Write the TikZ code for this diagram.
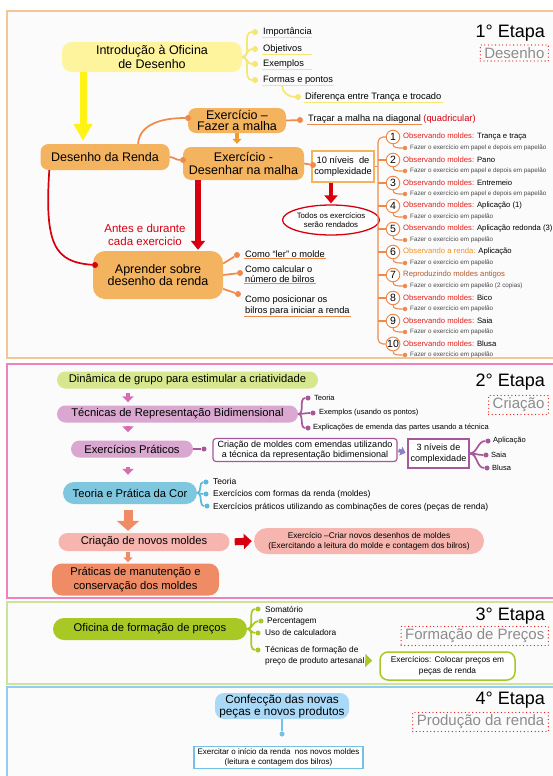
\documentclass[tikz,border=0pt]{standalone}
\usepackage{fontspec}
\setmainfont{Liberation Sans}
\usetikzlibrary{arrows.meta,calc,shapes.geometric}
\definecolor{fr1}{HTML}{F3C695}
\definecolor{fr2}{HTML}{EE82BE}
\definecolor{fr3}{HTML}{CFE29A}
\definecolor{fr4}{HTML}{92CDF2}
\definecolor{bg}{HTML}{FBFBFB}
\definecolor{ybox}{HTML}{FFF49E}
\definecolor{yline}{HTML}{F6E772}
\definecolor{yarr}{HTML}{FFF215}
\definecolor{obox}{HTML}{F4B35E}
\definecolor{oline}{HTML}{F08A4B}
\definecolor{oarr}{HTML}{F29A2E}
\definecolor{redc}{HTML}{D7000F}
\definecolor{obsred}{HTML}{E3201B}
\definecolor{obsor}{HTML}{F39123}
\definecolor{brownc}{HTML}{B35A2E}
\definecolor{greyt}{HTML}{8C8C8C}
\definecolor{subt}{HTML}{4A4A4A}
\definecolor{pgreen}{HTML}{D6E78E}
\definecolor{pmauve}{HTML}{D9A7D0}
\definecolor{mline}{HTML}{A8579A}
\definecolor{marr}{HTML}{D56DB2}
\definecolor{varr}{HTML}{8D80C8}
\definecolor{pblue}{HTML}{7FC7DF}
\definecolor{bline}{HTML}{5CB9DD}
\definecolor{salm}{HTML}{EF8C66}
\definecolor{ppink}{HTML}{F6B6AF}
\definecolor{limec}{HTML}{A8C923}
\definecolor{lblue}{HTML}{A9D9F7}
\definecolor{lbline}{HTML}{72C2E6}
\begin{document}
\begin{tikzpicture}[x=1pt,y=-1pt,
  every node/.style={inner sep=1pt},
  frame/.style={line width=1.2pt,fill=bg},
  ybx/.style={fill=ybox,rounded corners=10pt,align=center,font=\fontsize{12.5}{13.5}\selectfont},
  obx/.style={fill=obox,rounded corners=8pt,align=center,font=\fontsize{12.5}{13}\selectfont},
  pill/.style={align=center,font=\fontsize{11.2}{13}\selectfont},
  bdot/.style={circle,fill=#1,inner sep=0pt,minimum size=6pt},
  sdot/.style={circle,fill=#1,inner sep=0pt,minimum size=4.5pt},
  link/.style={draw=#1,line width=1.7pt},
  thin link/.style={draw=#1,line width=1.1pt},
  uline/.style={draw=#1,line width=1.2pt},
  lab/.style={anchor=west,align=left,font=\fontsize{9.3}{10.5}\selectfont},
  labmd/.style={anchor=west,align=left,font=\fontsize{8.3}{11}\selectfont},
  labsm/.style={anchor=west,align=left,font=\fontsize{8.5}{10}\selectfont},
  labxs/.style={anchor=west,align=left,font=\fontsize{7.5}{9}\selectfont},
  numc/.style={circle,draw=oline,line width=1pt,fill=white,inner sep=0pt,minimum size=13.5pt,font=\fontsize{10.5}{10.5}\selectfont},
  ttl/.style={anchor=west,font=\fontsize{7.7}{8}\selectfont},
  subl/.style={anchor=west,text=subt,font=\fontsize{6.3}{7}\selectfont},
  etapa/.style={anchor=east,font=\fontsize{18}{18}\selectfont},
  fase/.style={anchor=east,draw=obsred,dash pattern=on 0pt off 3.6pt,line cap=round,line width=1.3pt,text=greyt,inner xsep=4pt,inner ysep=2.5pt,font=\fontsize{15}{15}\selectfont},
  yarrow/.style={draw=yarr,line width=7pt,-{Triangle[width=18pt,length=17pt]},shorten >=3pt},
  bigred/.style={draw=redc,line width=5.5pt,-{Triangle[width=14pt,length=9pt]},shorten >=1pt},
  rarrow/.style={draw=redc,line width=4pt,-{Triangle[width=13pt,length=8pt]},shorten >=1pt},
  oarrow/.style={draw=oarr,line width=3.5pt,-{Triangle[width=9pt,length=5pt]},shorten >=3pt},
  marrow/.style={draw=marr,line width=4.5pt,-{Triangle[width=11pt,length=6pt]}},
  salarrow/.style={draw=salm,line width=9pt,-{Triangle[width=22pt,length=10pt]},shorten <=6pt,shorten >=2pt},
  smallsal/.style={draw=salm,line width=3.5pt,-{Triangle[width=9pt,length=5pt]},shorten <=1pt,shorten >=1pt},
  redright/.style={draw=redc,line width=7pt,-{Triangle[width=15pt,length=8pt]},shorten <=5pt,shorten >=2pt},
  varrow/.style={draw=varr,line width=3.5pt,-{Triangle[width=9pt,length=5pt]},shorten <=1pt,shorten >=2pt},
  garrow/.style={draw=limec,line width=6pt,-{Triangle[width=13pt,length=7pt]},shorten <=3pt,shorten >=7pt}]
\useasboundingbox (0,0) rectangle (552,776);
\fill[white] (0,0) rectangle (552,776);
\draw[frame,draw=fr1] (7,11) rectangle (560,358);
\draw[frame,draw=fr2] (7,364) rectangle (560,598);
\draw[frame,draw=fr3] (7,602) rectangle (560,684);
\draw[frame,draw=fr4] (7,687) rectangle (560,790);
\coordinate (ax1) at (83,0);
\coordinate (ax2) at (128,0);
\coordinate (ax3) at (198,0);
\coordinate (vx) at (378,0);

% 1a etapa
\node[etapa] (e1) at (546,33) {1° Etapa};
\node[fase] (f1) at (549,53) {Desenho};
\node[ybx,minimum width=180pt,minimum height=30pt] (intro) at (152,57) {Introdução à Oficina\\de Desenho};
\node[bdot=yline] (d1) at (255,32) {};
\node[bdot=yline] (d2) at (255,49) {};
\node[bdot=yline] (d3) at (255,64) {};
\node[bdot=yline] (d4) at (255,80) {};
\node[bdot=yline] (d5) at (298,97) {};
\node[lab] (l1) at (262,32) {Importância};
\node[lab] (l2) at (262,49) {Objetivos};
\node[lab] (l3) at (262,64) {Exemplos};
\node[lab] (l4) at (262,80) {Formas e pontos};
\node[lab] (l5) at (304,97) {Diferença entre Trança e trocado};
\draw[link=yline] (intro.east) to[out=0,in=180] (d1);
\draw[link=yline] (intro.east) to[out=0,in=180] (d2);
\draw[link=yline] (intro.east) to[out=0,in=180] (d3);
\draw[link=yline] (intro.east) to[out=0,in=180] (d4);
\draw[link=yline] ($(l4.south west)+(20,0)$) to[out=-90,in=180] (d5);
\draw[uline=yline] (l1.south west) -- ++(50,0);
\draw[uline=yline] (l2.south west) -- ++(50,0);
\draw[uline=yline] (l3.south west) -- ++(50,0);
\draw[uline=yline] (l4.south west) -- (l4.south east);
\draw[uline=yline] (l5.south west) -- (l5.south east);

\node[obx,minimum width=129pt,minimum height=26pt] (desenho) at (105,157) {Desenho da Renda};
\node[obx,minimum width=98pt,minimum height=25pt,font=\fontsize{12.5}{11}\selectfont] (fazer) at (237,120.5) {Exercício –\\Fazer a malha};
\node[obx,minimum width=121pt,minimum height=33pt] (desenhar) at (243.5,163.5) {Exercício -\\Desenhar na malha};
\node[obx,minimum width=130pt,minimum height=48pt,rounded corners=12pt,font=\fontsize{12.5}{11}\selectfont] (aprender) at (158,275) {Aprender sobre\\desenho da renda};
\draw[yarrow] (intro.south -| ax1) -- (desenho.north -| ax1);
\node[bdot=oline] (fdot) at (188,118) {};
\draw[link=oline] ($(desenho.north)+(33,0)$) to[out=85,in=180] (fdot);
\node[bdot=oline] (tdot) at (300,120) {};
\draw[link=oline] (fazer.east) -- (tdot);
\node[lab] (trac) at (307,119) {Traçar a malha na diagonal};
\node[lab,text=redc] (quad) at (trac.east) {(quadricular)};
\draw[uline=oline] (trac.south west) -- (trac.south east);
\node[bdot=oline] (ddot) at (183,160) {};
\draw[link=oline] (desenho.east) to[out=0,in=180] (ddot);
\draw[oarrow] (fazer.south) -- (fazer.south |- desenhar.north);
\node[draw=obox,line width=1.5pt,fill=white,minimum width=62pt,minimum height=31pt,align=center,font=\fontsize{9.3}{11}\selectfont] (niveis) at (343,166.5) {10 níveis\ \ de\\complexidade};
\node[bdot=oline] (ndot) at (313,165) {};
\draw[link=oline] (desenhar.east) -- (ndot);
\node[ellipse,draw=redc,line width=1.3pt,fill=white,minimum width=89pt,minimum height=30pt,inner sep=0pt,align=center,font=\fontsize{7.8}{9}\selectfont] (todos) at (331,220) {Todos os exercícios\\serão rendados};
\draw[rarrow] (niveis.south -| todos.north) -- (todos.north);
\draw[bigred] (desenhar.south -| ax3) -- (aprender.north -| ax3);
\node[align=center,text=redc,font=\fontsize{11.5}{13}\selectfont] (antes) at (145,235) {Antes e durante\\cada exercicio};
\node[bdot=redc] (rdot) at (95,265) {};
\draw[link=redc] ($(desenho.south west)+(9,0)$) .. controls +(-5,75) and +(-40,-3) .. (rdot);
\node[bdot=oline] (a1) at (237,255) {};
\node[bdot=oline] (a2) at (240,273) {};
\node[bdot=oline] (a3) at (238,294) {};
\draw[link=oline] (aprender.10) -- (a1);
\draw[link=oline] (aprender.east) -- (a2);
\draw[link=oline] (aprender.-12) -- (a3);
\node[lab] (c1) at (244,254) {Como “ler” o molde};
\node[lab] (c2) at (244,274) {Como calcular o\\número de bilros};
\node[lab] (c3) at (244,305.5) {Como posicionar os\\bilros para iniciar a renda};
\draw[uline=oline] (c1.south west) -- (c1.south east);
\draw[uline=oline] (c2.south west) -- (c2.south east);
\draw[uline=oline] (c3.south west) -- (c3.south east);

\node[numc] (n1) at (393,137) {1};
\node[numc] (n2) at (393,160) {2};
\node[numc] (n3) at (393,183) {3};
\node[numc] (n4) at (393,206) {4};
\node[numc] (n5) at (393,229) {5};
\node[numc] (n6) at (393,252) {6};
\node[numc] (n7) at (393,275) {7};
\node[numc] (n8) at (393,298) {8};
\node[numc] (n9) at (393,321) {9};
\node[numc] (n10) at (393,344) {10};
\node[ttl] (t1) at (402,137) {\textcolor{obsred}{Observando moldes:} Trança e traça};
\node[ttl] (t2) at (402,160) {\textcolor{obsred}{Observando moldes:} Pano};
\node[ttl] (t3) at (402,183) {\textcolor{obsred}{Observando moldes:} Entremeio};
\node[ttl] (t4) at (402,206) {\textcolor{obsred}{Observando moldes:} Aplicação (1)};
\node[ttl] (t5) at (402,229) {\textcolor{obsred}{Observando moldes:} Aplicação redonda (3)};
\node[ttl] (t6) at (402,252) {\textcolor{obsor}{Observando a renda:} Aplicação};
\node[ttl] (t7) at (402,275) {\textcolor{brownc}{Reproduzindo moldes antigos}};
\node[ttl] (t8) at (402,298) {\textcolor{obsred}{Observando moldes:} Bico};
\node[ttl] (t9) at (402,321) {\textcolor{obsred}{Observando moldes:} Saia};
\node[ttl] (t10) at (402,344) {\textcolor{obsred}{Observando moldes:} Blusa};
\node[sdot=oline] (s1) at (405,148) {};
\node[sdot=oline] (s2) at (405,171) {};
\node[sdot=oline] (s3) at (405,194) {};
\node[sdot=oline] (s4) at (405,217) {};
\node[sdot=oline] (s5) at (405,240) {};
\node[sdot=oline] (s6) at (405,263) {};
\node[sdot=oline] (s7) at (405,286) {};
\node[sdot=oline] (s8) at (405,309) {};
\node[sdot=oline] (s9) at (405,332) {};
\node[sdot=oline] (s10) at (405,355) {};
\node[subl] (u1) at (409,148) {Fazer o exercício em papel e depois em papelão};
\node[subl] (u2) at (409,171) {Fazer o exercício em papel e depois em papelão};
\node[subl] (u3) at (409,194) {Fazer o exercício em papel e depois em papelão};
\node[subl] (u4) at (409,217) {Fazer o exercício em papelão};
\node[subl] (u5) at (409,240) {Fazer o exercício em papelão};
\node[subl] (u6) at (409,263) {Fazer o exercício em papelão};
\node[subl] (u7) at (409,286) {Fazer o exercício em papelão (2 copias)};
\node[subl] (u8) at (409,309) {Fazer o exercício em papelão};
\node[subl] (u9) at (409,332) {Fazer o exercício em papelão};
\node[subl] (u10) at (409,355) {Fazer o exercício em papelão};
\draw[thin link=oline] (niveis.east) -- (niveis.east -| vx);
\draw[thin link=oline,rounded corners=5pt] (n1.west) -| (vx |- n10.west) -- (n10.west);
\draw[thin link=oline] (n2.west) -- (n2.west -| vx);
\draw[thin link=oline] (n3.west) -- (n3.west -| vx);
\draw[thin link=oline] (n4.west) -- (n4.west -| vx);
\draw[thin link=oline] (n5.west) -- (n5.west -| vx);
\draw[thin link=oline] (n6.west) -- (n6.west -| vx);
\draw[thin link=oline] (n7.west) -- (n7.west -| vx);
\draw[thin link=oline] (n8.west) -- (n8.west -| vx);
\draw[thin link=oline] (n9.west) -- (n9.west -| vx);
\draw[thin link=oline] (n1.south) to[out=-90,in=180] (s1);
\draw[thin link=oline] (n2.south) to[out=-90,in=180] (s2);
\draw[thin link=oline] (n3.south) to[out=-90,in=180] (s3);
\draw[thin link=oline] (n4.south) to[out=-90,in=180] (s4);
\draw[thin link=oline] (n5.south) to[out=-90,in=180] (s5);
\draw[thin link=oline] (n6.south) to[out=-90,in=180] (s6);
\draw[thin link=oline] (n7.south) to[out=-90,in=180] (s7);
\draw[thin link=oline] (n8.south) to[out=-90,in=180] (s8);
\draw[thin link=oline] (n9.south) to[out=-90,in=180] (s9);
\draw[thin link=oline] (n10.south) to[out=-90,in=180] (s10);

% 2a etapa
\node[etapa] (e2) at (546,382) {2° Etapa};
\node[fase] (f2) at (549,405) {Criação};
\node[pill,fill=pgreen,rounded corners=8.5pt,minimum width=261pt,minimum height=17pt] (dinamica) at (187.5,380) {Dinâmica de grupo para estimular a criatividade};
\node[pill,fill=pmauve,rounded corners=8.5pt,minimum width=241pt,minimum height=17pt] (tecnicas) at (177.5,414) {Técnicas de Representação Bidimensional};
\node[pill,fill=pmauve,rounded corners=8.5pt,minimum width=122pt,minimum height=17pt] (praticos) at (132,449) {Exercícios Práticos};
\node[pill,fill=pblue,rounded corners=11pt,minimum width=134pt,minimum height=22pt] (cor) at (130,493) {Teoria e Prática da Cor};
\node[pill,fill=ppink,rounded corners=9pt,minimum width=171pt,minimum height=18pt] (novos) at (144,542) {Criação de novos moldes};
\node[pill,fill=ppink,rounded corners=13pt,minimum width=230pt,minimum height=26pt,font=\fontsize{8.3}{10}\selectfont] (exnovo) at (369,541) {Exercício –Criar novos desenhos de moldes\\(Exercitando a leitura do molde e contagem dos bilros)};
\node[fill=salm,rounded corners=10pt,minimum width=167pt,minimum height=32pt,align=center,font=\fontsize{11.2}{13.5}\selectfont] (manut) at (135.5,579.5) {Práticas de manutenção e\\conservação dos moldes};
\draw[marrow,shorten <=4pt,shorten >=3pt] (dinamica.south -| ax2) -- (tecnicas.north -| ax2);
\draw[marrow,shorten <=3pt,shorten >=8pt] (tecnicas.south -| ax2) -- (praticos.north -| ax2);
\draw[marrow,shorten <=9pt,shorten >=7pt] (praticos.south -| ax2) -- (cor.north -| ax2);
\draw[salarrow] (cor.south -| ax2) -- (novos.north -| ax2);
\draw[redright] (novos.east) -- (exnovo.west);
\draw[smallsal] (novos.south -| ax2) -- (manut.north -| ax2);
\node[bdot=mline,minimum size=5pt] (p1) at (308,398) {};
\node[bdot=mline,minimum size=5pt] (p2) at (313,413) {};
\node[bdot=mline,minimum size=5pt] (p3) at (308,428) {};
\node[labxs] (m1) at (313,398) {Teoria};
\node[labxs] (m2) at (318,413) {Exemplos (usando os pontos)};
\node[labxs] (m3) at (312,428) {Explicações de emenda das partes usando a técnica};
\draw[link=mline] (tecnicas.east) to[out=0,in=180] (p1);
\draw[link=mline] (tecnicas.east) to[out=0,in=180] (p2);
\draw[link=mline] (tecnicas.east) to[out=0,in=180] (p3);
\node[bdot=mline,minimum size=5pt] (cdot) at (204,449) {};
\draw[link=mline] (praticos.east) -- (cdot);
\node[draw=mline,line width=1.2pt,rounded corners=3pt,fill=white,minimum width=184pt,minimum height=23pt,align=center,font=\fontsize{9}{9.5}\selectfont] (molde) at (305,450) {Criação de moldes com emendas utilizando\\a técnica da representação bidimensional};
\node[draw=mline,line width=1.2pt,fill=white,minimum width=61pt,minimum height=29pt,align=center,font=\fontsize{9}{10.5}\selectfont] (niv3) at (438.5,453.5) {3 níveis de\\complexidade};
\draw[varrow] (molde.east) -- (niv3.west);
\node[bdot=mline,minimum size=5pt] (q1) at (488,441) {};
\node[bdot=mline,minimum size=5pt] (q2) at (486,455) {};
\node[bdot=mline,minimum size=5pt] (q3) at (487,468) {};
\node[labxs] (r1) at (492,441) {Aplicação};
\node[labxs] (r2) at (490,455) {Saia};
\node[labxs] (r3) at (491,468) {Blusa};
\draw[link=mline] (niv3.east) to[out=0,in=180] (q1);
\draw[link=mline] (niv3.east) to[out=0,in=180] (q2);
\draw[link=mline] (niv3.east) to[out=0,in=180] (q3);
\node[bdot=bline,minimum size=5pt] (b1) at (206,482) {};
\node[bdot=bline,minimum size=5pt] (b2) at (206,494) {};
\node[bdot=bline,minimum size=5pt] (b3) at (207,506) {};
\node[labsm] (k1) at (212,481) {Teoria};
\node[labsm] (k2) at (212,494) {Exercícios com formas da renda (moldes)};
\node[labsm] (k3) at (212,507) {Exercícios práticos utilizando as combinações de cores (peças de renda)};
\draw[link=bline] (cor.east) to[out=0,in=180] (b1);
\draw[link=bline] (cor.east) to[out=0,in=180] (b2);
\draw[link=bline] (cor.east) to[out=0,in=180] (b3);

% 3a etapa
\node[etapa] (e3) at (546,616) {3° Etapa};
\node[fase] (f3) at (549,636) {Formação de Preços};
\node[pill,fill=limec,rounded corners=11pt,minimum width=194pt,minimum height=22pt] (oficina) at (150,629) {Oficina de formação de preços};
\node[bdot=limec,minimum size=5pt] (g1) at (258,609) {};
\node[bdot=limec,minimum size=5pt] (g2) at (261,621) {};
\node[bdot=limec,minimum size=5pt] (g3) at (258,633) {};
\node[bdot=limec,minimum size=5pt] (g4) at (258,650) {};
\node[labmd] (h1) at (264,609) {Somatório};
\node[labmd] (h2) at (266,621) {Percentagem};
\node[labmd] (h3) at (264,633) {Uso de calculadora};
\node[labmd] (h4) at (264,655.5) {Técnicas de formação de\\preço de produto artesanal};
\draw[link=limec] (oficina.east) to[out=0,in=180] (g1);
\draw[link=limec] (oficina.east) to[out=0,in=180] (g2);
\draw[link=limec] (oficina.east) to[out=0,in=180] (g3);
\draw[link=limec] (oficina.east) to[out=0,in=180] (g4);
\node[draw=limec,line width=1.5pt,rounded corners=8pt,fill=white,minimum width=135pt,minimum height=28pt,align=center,font=\fontsize{8.3}{11}\selectfont] (preco) at (447.5,666) {Exercícios: Colocar preços em\\peças de renda};
\draw[garrow] ($(h4.east)+(0,5)$) -- ($(preco.west)+(0,-5)$);

% 4a etapa
\node[etapa] (e4) at (546,700) {4° Etapa};
\node[fase] (f4) at (549,722) {Produção da renda};
\node[pill,fill=lblue,rounded corners=9pt,minimum width=134pt,minimum height=26pt,font=\fontsize{11.8}{12}\selectfont] (confec) at (282,706) {Confecção das novas\\peças e novos produtos};
\node[bdot=lbline,minimum size=5pt] (vdot) at (282,734) {};
\draw[link=lbline] (confec.south) -- (vdot);
\node[draw=lbline,line width=1.5pt,fill=white,minimum width=169pt,minimum height=22pt,align=center,font=\fontsize{8}{9.5}\selectfont] (inicio) at (278.5,757.5) {Exercitar o início da renda\ \ nos novos moldes\\(leitura e contagem dos bilros)};
\end{tikzpicture}
\end{document}
